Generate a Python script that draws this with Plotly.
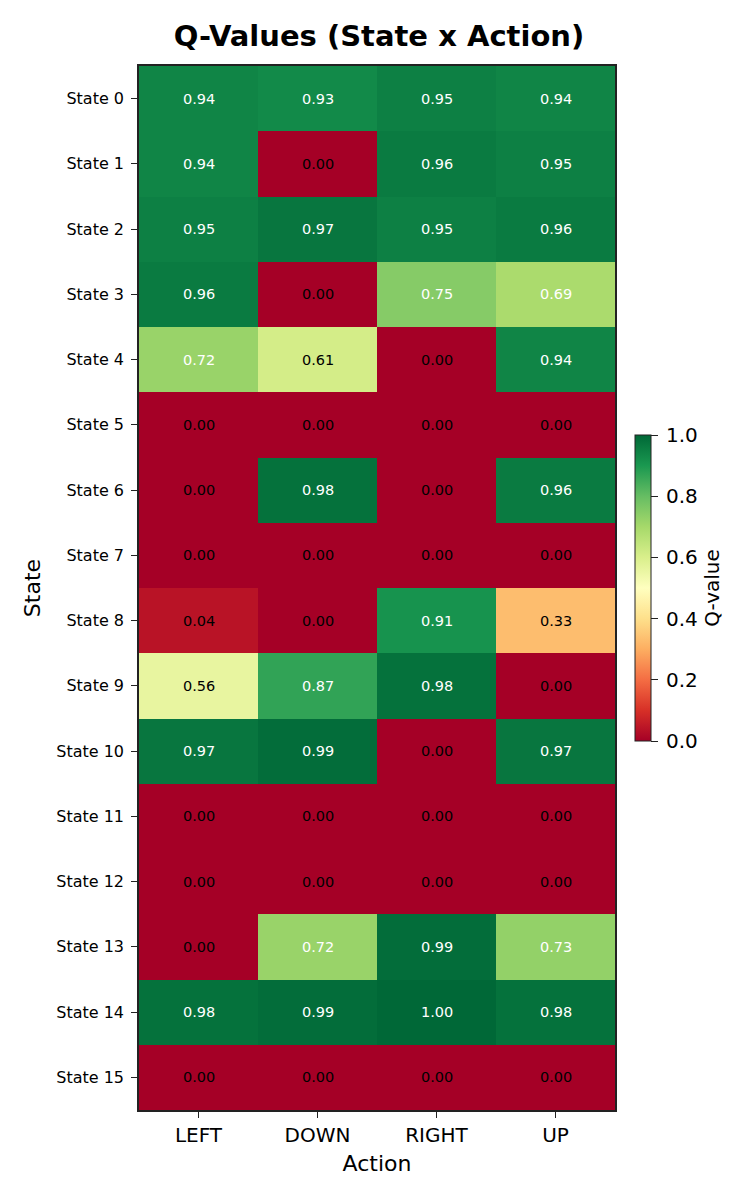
import plotly.graph_objects as go

actions = ["LEFT", "DOWN", "RIGHT", "UP"]
states = [f"State {i}" for i in range(16)]
q_left = [0.94, 0.94, 0.95, 0.96, 0.72, 0.00, 0.00, 0.00, 0.04, 0.56, 0.97, 0.00, 0.00, 0.00, 0.98, 0.00]
q_down = [0.93, 0.00, 0.97, 0.00, 0.61, 0.00, 0.98, 0.00, 0.00, 0.87, 0.99, 0.00, 0.00, 0.72, 0.99, 0.00]
q_right = [0.95, 0.96, 0.95, 0.75, 0.00, 0.00, 0.00, 0.00, 0.91, 0.98, 0.00, 0.00, 0.00, 0.99, 1.00, 0.00]
q_up = [0.94, 0.95, 0.96, 0.69, 0.94, 0.00, 0.96, 0.00, 0.33, 0.00, 0.97, 0.00, 0.00, 0.73, 0.98, 0.00]
cbar_ticks = [0.0, 0.2, 0.4, 0.6, 0.8, 1.0]

cols = [q_left, q_down, q_right, q_up]
z = [[cols[a][s] for a in range(4)] for s in range(16)]

FONT = "DejaVu Sans"
W, H = 742, 1192
ML, MR, MT, MB = 131, 135, 58, 90
PW = W - ML - MR
PH = H - MT - MB

fig = go.Figure(go.Heatmap(
    z=z, x=actions, y=states,
    colorscale="RdYlGn", zmin=0, zmax=1,
    xgap=0, ygap=0,
    colorbar=dict(
        x=(627 - ML) / PW, xanchor="left", xref="paper",
        xpad=0, ypad=0,
        y=(1102 - 580) / PH, yanchor="middle", len=306 / PH, lenmode="fraction",
        thickness=16, outlinewidth=1, outlinecolor="#222",
        tickmode="array", tickvals=cbar_ticks,
        ticktext=["\u2009" + f"{t:.1f}" for t in cbar_ticks],
        ticks="outside", ticklen=7, tickcolor="#222",
        tickfont=dict(family=FONT, size=20, color="black"),
        title=dict(text="Q-value", side="right", font=dict(family=FONT, size=20, color="black")),
    ),
    hoverinfo="skip",
))

annotations = []
for s in range(16):
    for a in range(4):
        v = z[s][a]
        annotations.append(dict(
            x=actions[a], y=states[s], xref="x", yref="y",
            text=f"{v:.2f}", showarrow=False,
            font=dict(family=FONT, size=14.5, color="white" if v > 0.65 else "black"),
        ))

fig.update_layout(
    width=W, height=H,
    margin=dict(l=ML, r=MR, t=MT, b=MB),
    paper_bgcolor="white", plot_bgcolor="white",
    title=dict(text="<b>Q-Values (State x Action)</b>", x=(139 + 615) / 2 / W - 6 / W, xanchor="center",
               xref="container",
               y=1 - 28 / H, yanchor="middle", yref="container",
               font=dict(family=FONT, size=29, color="black")),
    annotations=annotations,
    font=dict(family=FONT, color="black"),
)
fig.update_xaxes(
    showline=True, linecolor="#222", linewidth=1.5, mirror=True,
    ticks="outside", ticklen=6, tickcolor="#222",
    tickfont=dict(family=FONT, size=20, color="black"),
    title=dict(text="Action", font=dict(family=FONT, size=22, color="black"), standoff=10),
    showgrid=False, zeroline=False,
)
fig.update_yaxes(
    autorange="reversed",
    showline=True, linecolor="#222", linewidth=1.5, mirror=True,
    ticks="outside", ticklen=6, tickcolor="#222", ticklabelstandoff=4,
    tickfont=dict(family=FONT, size=16, color="black"),
    title=dict(text="State", font=dict(family=FONT, size=22, color="black"), standoff=10),
    showgrid=False, zeroline=False,
)

fig.write_html("out.html")
